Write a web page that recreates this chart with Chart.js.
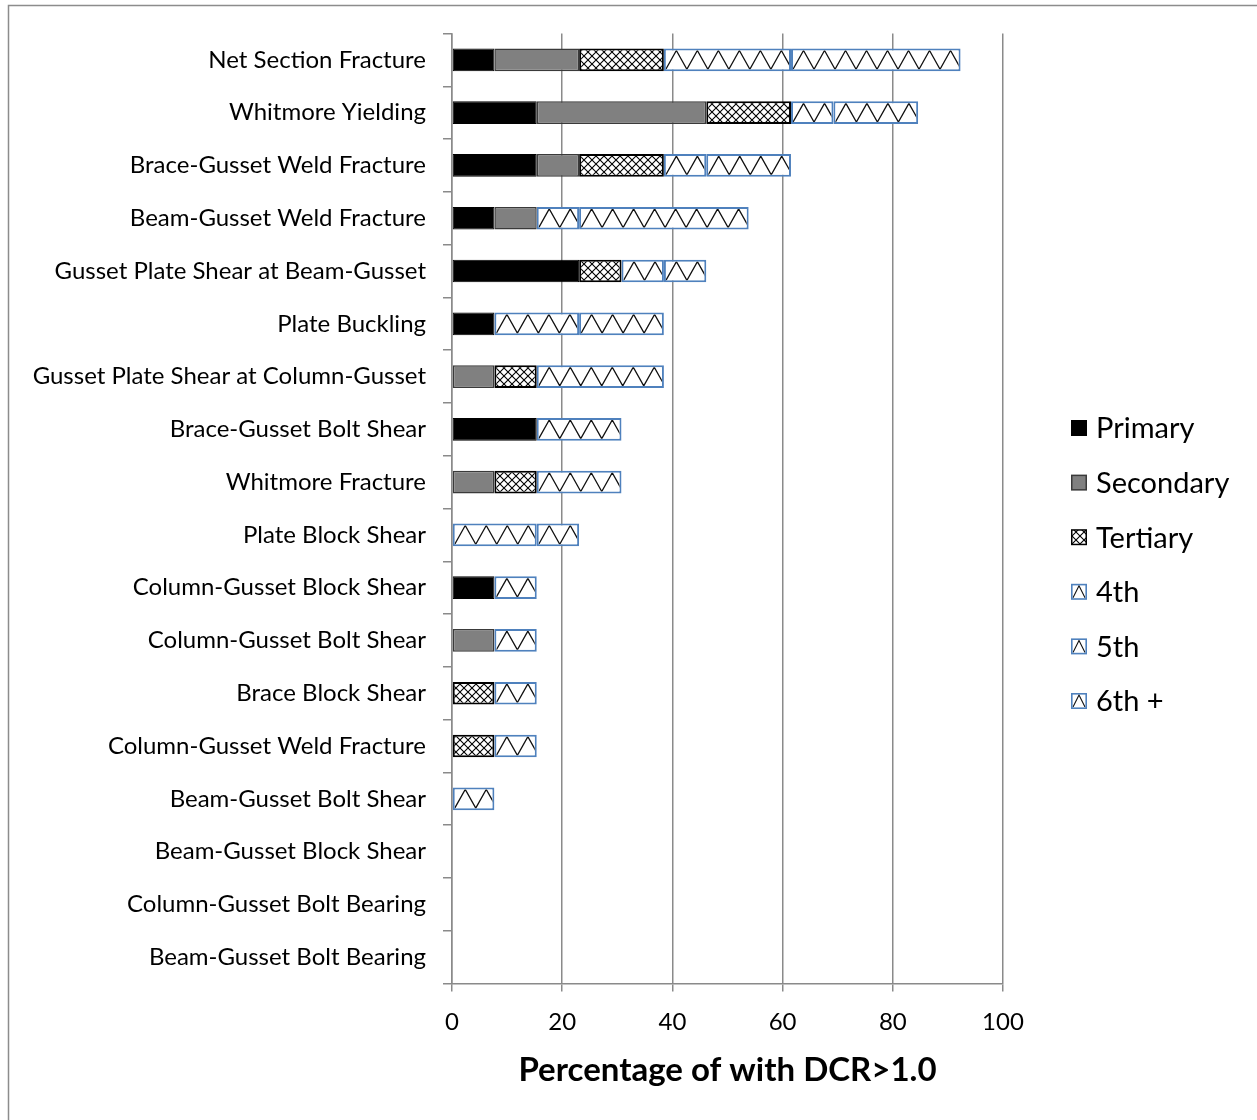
<!DOCTYPE html>
<html>
<head>
<meta charset="utf-8">
<title>Percentage of with DCR>1.0</title>
<script src="https://cdn.jsdelivr.net/npm/chart.js@4/dist/chart.umd.min.js"></script>
<style>
  html, body { margin: 0; padding: 0; background: #fff; }
  #wrap { width: 1257px; height: 1120px; position: relative; }
</style>
</head>
<body>
<div id="wrap"><canvas id="chart" width="1257" height="1120"></canvas></div>
<script>
// Limit states, listed top to bottom
const categories = [
  'Net Section Fracture',
  'Whitmore Yielding',
  'Brace-Gusset Weld Fracture',
  'Beam-Gusset Weld Fracture',
  'Gusset Plate Shear at Beam-Gusset',
  'Plate Buckling',
  'Gusset Plate Shear at Column-Gusset',
  'Brace-Gusset Bolt Shear',
  'Whitmore Fracture',
  'Plate Block Shear',
  'Column-Gusset Block Shear',
  'Column-Gusset Bolt Shear',
  'Brace Block Shear',
  'Column-Gusset Weld Fracture',
  'Beam-Gusset Bolt Shear',
  'Beam-Gusset Block Shear',
  'Column-Gusset Bolt Bearing',
  'Beam-Gusset Bolt Bearing'
];

const seriesNames = ['Primary', 'Secondary', 'Tertiary', '4th', '5th', '6th +'];

// Percentage of connections with DCR > 1.0, by governing rank
const primary   = [7.69, 15.38, 15.38, 7.69, 23.08, 7.69, 0, 15.38, 0, 0, 7.69, 0, 0, 0, 0, 0, 0, 0];
const secondary = [15.38, 30.77, 7.69, 7.69, 0, 0, 7.69, 0, 7.69, 0, 0, 7.69, 0, 0, 0, 0, 0, 0];
const tertiary  = [15.38, 15.38, 15.38, 0, 7.69, 0, 7.69, 0, 7.69, 0, 0, 0, 7.69, 7.69, 0, 0, 0, 0];
const fourth    = [23.08, 7.69, 7.69, 7.69, 7.69, 15.38, 23.08, 15.38, 15.38, 15.38, 7.69, 7.69, 7.69, 7.69, 7.69, 0, 0, 0];
const fifth     = [30.77, 15.38, 15.38, 30.77, 7.69, 15.38, 0, 0, 0, 7.69, 0, 0, 0, 0, 0, 0, 0, 0];
const sixthPlus = [0, 0, 0, 0, 0, 0, 0, 0, 0, 0, 0, 0, 0, 0, 0, 0, 0, 0];

const xTicks = [0, 20, 40, 60, 80, 100];

const FONT = 'Lato, "Open Sans", sans-serif';
const BLUE = '#4f81bd';
const GRID = '#8a8a8a';

// Cross-hatch fill for the tertiary series
function makeCrossHatch() {
  const c = document.createElement('canvas');
  c.width = 8; c.height = 8;
  const g = c.getContext('2d');
  g.fillStyle = '#fff';
  g.fillRect(0, 0, 8, 8);
  g.strokeStyle = '#000';
  g.lineWidth = 1.1;
  g.beginPath();
  g.moveTo(-1, -1); g.lineTo(9, 9);
  g.moveTo(-1, 9); g.lineTo(9, -1);
  g.stroke();
  return g.createPattern(c, 'repeat');
}
const crossHatch = makeCrossHatch();

// Zigzag drawn inside the 4th / 5th / 6th+ bars
function drawZigzag(ctx, left, top, right, bottom, period) {
  ctx.save();
  ctx.beginPath();
  ctx.rect(left, top, right - left, bottom - top);
  ctx.clip();
  ctx.strokeStyle = '#111';
  ctx.lineWidth = 1.3;
  ctx.beginPath();
  ctx.moveTo(left, bottom);
  let x = left;
  let up = true;
  while (x < right + period) {
    x += period / 2;
    ctx.lineTo(x, up ? top : bottom);
    up = !up;
  }
  ctx.stroke();
  ctx.restore();
}

const zigzagPlugin = {
  id: 'zigzag',
  afterDatasetsDraw(chart) {
    const ctx = chart.ctx;
    [3, 4, 5].forEach(i => {
      const meta = chart.getDatasetMeta(i);
      if (meta.hidden) return;
      const bw = chart.data.datasets[i].borderWidth;
      meta.data.forEach(el => {
        const p = el.getProps(['x', 'y', 'base', 'height'], true);
        const left = Math.min(p.x, p.base), right = Math.max(p.x, p.base);
        if (right - left < 1) return;
        const top = p.y - p.height / 2, bottom = p.y + p.height / 2;
        drawZigzag(ctx, left + bw, top + bw, right - bw, bottom - bw, 21);
      });
    });
  }
};

// Outer frame and white background
const framePlugin = {
  id: 'frame',
  beforeDraw(chart) {
    const ctx = chart.ctx;
    ctx.save();
    ctx.fillStyle = '#fff';
    ctx.fillRect(0, 0, chart.width, chart.height);
    ctx.strokeStyle = '#8c8c8c';
    ctx.lineWidth = 1.5;
    ctx.beginPath();
    ctx.moveTo(8.5, chart.height);
    ctx.lineTo(8.5, 5.5);
    ctx.lineTo(chart.width, 5.5);
    ctx.stroke();
    ctx.restore();
  }
};

// Legend on the right
const legendPlugin = {
  id: 'sideLegend',
  afterDraw(chart) {
    const ctx = chart.ctx;
    const x0 = 1071, y0 = 428, gap = 54.6, box = 16;
    ctx.save();
    chart.data.datasets.forEach((ds, i) => {
      const cy = y0 + i * gap;
      const bx = x0, by = cy - box / 2;
      if (i < 3) {
        ctx.fillStyle = ds.legendBorder;
        ctx.fillRect(bx, by, box, box);
        ctx.fillStyle = ds.backgroundColor;
        ctx.fillRect(bx + 1.5, by + 1.5, box - 3, box - 3);
      } else {
        ctx.fillStyle = '#fff';
        ctx.fillRect(bx, by, box, box);
        ctx.strokeStyle = '#111';
        ctx.lineWidth = 1.1;
        ctx.beginPath();
        ctx.moveTo(bx + 2, by + box - 2);
        ctx.lineTo(bx + box / 2, by + 2);
        ctx.lineTo(bx + box - 2, by + box - 2);
        ctx.stroke();
        ctx.strokeStyle = BLUE;
        ctx.lineWidth = 1.6;
        ctx.strokeRect(bx + 0.8, by + 0.8, box - 1.6, box - 1.6);
      }
      ctx.fillStyle = '#000';
      ctx.font = '29px ' + FONT;
      ctx.textBaseline = 'middle';
      ctx.textAlign = 'left';
      ctx.fillText(ds.label, 1096, cy + 1);
    });
    ctx.restore();
  }
};

function ds(label, data, bg, border, bw) {
  return {
    label, data,
    backgroundColor: bg,
    borderColor: border,
    borderWidth: bw,
    borderSkipped: false,
    legendBorder: border,
    barPercentage: 0.43,
    categoryPercentage: 1.0
  };
}

new Chart(document.getElementById('chart'), {
  type: 'bar',
  data: {
    labels: categories,
    datasets: [
      ds(seriesNames[0], primary, '#000000', '#000000', 1),
      ds(seriesNames[1], secondary, '#808080', '#3a3a3a', 1.5),
      ds(seriesNames[2], tertiary, crossHatch, '#000000', 2),
      ds(seriesNames[3], fourth, '#ffffff', BLUE, 2),
      ds(seriesNames[4], fifth, '#ffffff', BLUE, 2),
      ds(seriesNames[5], sixthPlus, '#ffffff', BLUE, 2)
    ]
  },
  options: {
    indexAxis: 'y',
    responsive: false,
    devicePixelRatio: 1,
    animation: false,
    layout: { padding: { top: 33.5, right: 254, bottom: 0, left: 0 } },
    plugins: {
      legend: { display: false },
      tooltip: { enabled: false }
    },
    scales: {
      x: {
        stacked: true,
        min: 0,
        max: 100,
        afterBuildTicks: s => { s.ticks = xTicks.map(v => ({ value: v })); },
        ticks: { font: { family: FONT, size: 24 }, color: '#000', padding: 16, maxRotation: 0 },
        grid: { color: GRID, lineWidth: 1.5, tickLength: 8 },
        border: { color: GRID, width: 1.5 },
        title: {
          display: true,
          text: 'Percentage of with DCR>1.0',
          font: { family: FONT, size: 33, weight: 'bold' },
          color: '#000',
          padding: { top: 0, bottom: 30 }
        },
        afterFit: s => { s.height = 136.5; }
      },
      y: {
        stacked: true,
        ticks: { font: { family: FONT, size: 24 }, color: '#000', padding: 17, autoSkip: false },
        grid: { drawOnChartArea: false, color: GRID, lineWidth: 1.5, tickLength: 9 },
        border: { color: GRID, width: 1.5 },
        afterFit: s => { s.width = 452; }
      }
    }
  },
  plugins: [framePlugin, zigzagPlugin, legendPlugin]
});
</script>
</body>
</html>
